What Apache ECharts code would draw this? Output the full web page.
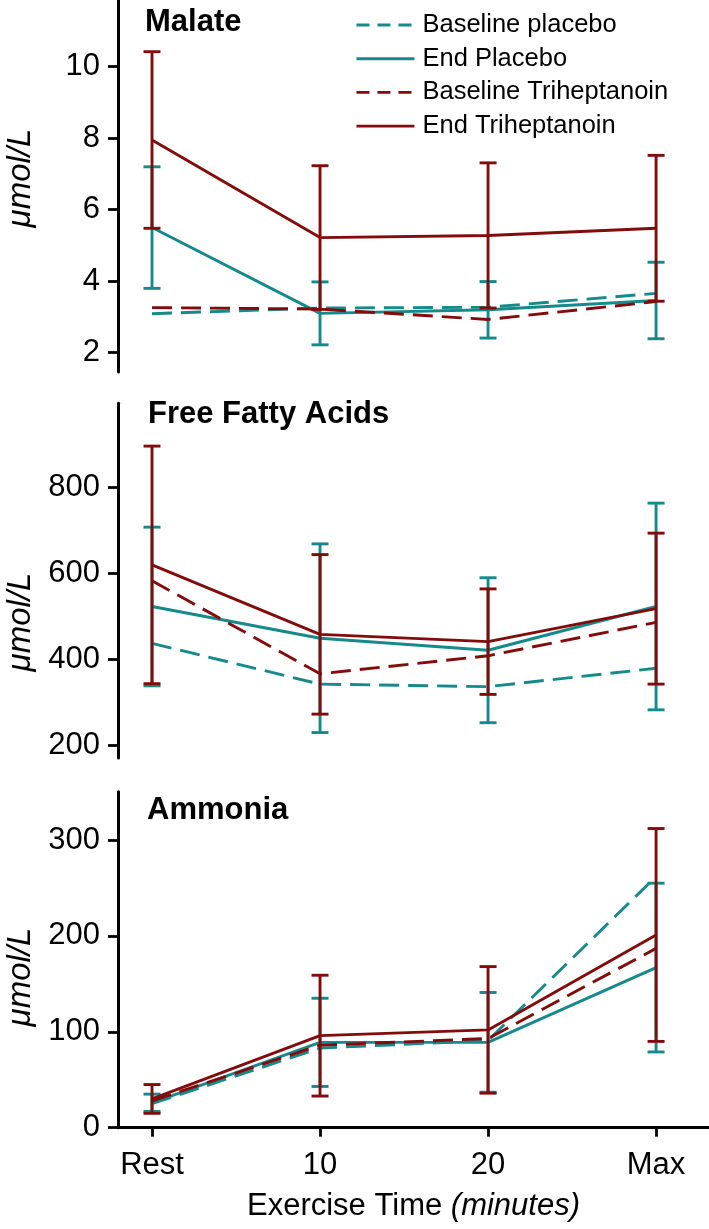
<!DOCTYPE html>
<html>
<head>
<meta charset="utf-8">
<script src="https://cdn.jsdelivr.net/npm/echarts@6/dist/echarts.min.js"></script>
<style>
  html, body { margin: 0; padding: 0; background: #fff; }
  #chart { width: 709px; height: 1229px; }
</style>
</head>
<body>
<div id="chart"></div>
<script>
// ---------- data ----------
const categories = ['Rest', '10', '20', 'Max'];
const seriesNames = ['Baseline placebo', 'End Placebo', 'Baseline Triheptanoin', 'End Triheptanoin'];
const panelTitles = ['Malate', 'Free Fatty Acids', 'Ammonia'];

// Malate (µmol/L)
const malateBasePlacebo = [3.09, 3.25, 3.27, 3.66];
const malateEndPlacebo = [5.5, 3.1, 3.2, 3.46];
const malateEndPlaceboErr = [1.7, 0.88, 0.79, 1.07];
const malateBaseTrihep = [3.26, 3.22, 2.93, 3.43];
const malateEndTrihep = [7.95, 5.22, 5.28, 5.48];
const malateEndTrihepErr = [2.47, 2.01, 2.03, 2.04];
const malateTicks = [2, 4, 6, 8, 10];

// Free Fatty Acids (µmol/L)
const ffaBasePlacebo = [437, 342, 336, 379];
const ffaEndPlacebo = [523, 449, 421, 523];
const ffaEndPlaceboErr = [185, 220, 169, 241];
const ffaBaseTrihep = [583, 366, 408, 486];
const ffaEndTrihep = [620, 458, 441, 518];
const ffaEndTrihepErr = [277, 186, 123, 176];
const ffaTicks = [200, 400, 600, 800];

// Ammonia (µmol/L)
const nh3BasePlacebo = [25, 83, 91, 262];
const nh3EndPlacebo = [26, 89, 89, 167];
const nh3EndPlaceboErr = [9, 46, 52, 88];
const nh3BaseTrihep = [28, 86, 93, 187];
const nh3EndTrihep = [30, 96, 102, 201];
const nh3EndTrihepErr = [15, 63, 66, 111];
const nh3Ticks = [0, 100, 200, 300];

// ---------- styling ----------
const TEAL = '#16898a';
const RED = '#820c0c';
const FONT = '"Liberation Sans", Arial, Helvetica, sans-serif';
const DASH = [20, 9];
const LEGEND_DASH = [13, 8];
const LW = 2.9;

const panels = [
  { base: [malateBasePlacebo, malateEndPlacebo, malateBaseTrihep, malateEndTrihep],
    err: [malateEndPlaceboErr, malateEndTrihepErr], ticks: malateTicks,
    min: 1.46, max: 11.866, top: 0, height: 372 },
  { base: [ffaBasePlacebo, ffaEndPlacebo, ffaBaseTrihep, ffaEndTrihep],
    err: [ffaEndPlaceboErr, ffaEndTrihepErr], ticks: ffaTicks,
    min: 169.7, max: 996.8, top: 403.3, height: 354.7 },
  { base: [nh3BasePlacebo, nh3EndPlacebo, nh3BaseTrihep, nh3EndTrihep],
    err: [nh3EndPlaceboErr, nh3EndTrihepErr], ticks: nh3Ticks,
    min: 0, max: 350.4, top: 791.7, height: 336 }
];

const xIdx = categories.map((c, i) => i);

const grids = [], xAxes = [], yAxes = [], series = [];

function toPairs(arr) { return arr.map((v, i) => [xIdx[i], v]); }
function toErr(mean, err) { return mean.map((v, i) => [xIdx[i], v, err[i]]); }

function errRender(color) {
  return function (params, api) {
    const x = api.value(0), y = api.value(1), e = api.value(2);
    const hi = api.coord([x, y + e]);
    const lo = api.coord([x, y - e]);
    const hw = 8.5;
    const st = { stroke: color, lineWidth: LW };
    return {
      type: 'group',
      children: [
        { type: 'line', shape: { x1: hi[0], y1: hi[1], x2: lo[0], y2: lo[1] }, style: st },
        { type: 'line', shape: { x1: hi[0] - hw, y1: hi[1], x2: hi[0] + hw, y2: hi[1] }, style: st },
        { type: 'line', shape: { x1: lo[0] - hw, y1: lo[1], x2: lo[0] + hw, y2: lo[1] }, style: st }
      ]
    };
  };
}

panels.forEach((p, k) => {
  grids.push({ left: 118, right: 0, top: p.top, height: p.height, containLabel: false });
  const isBottom = k === panels.length - 1;
  xAxes.push({
    gridIndex: k, type: 'value', min: -0.2024, max: 3.315,
    show: isBottom,
    axisLine: { show: isBottom, onZero: false, lineStyle: { color: '#000', width: 3 } },
    axisTick: { show: isBottom, length: 9, customValues: xIdx, lineStyle: { color: '#000', width: 2.8 } },
    axisLabel: { show: isBottom, customValues: xIdx, margin: 22,
      formatter: v => categories[Math.round(v)],
      color: '#000', fontSize: 31, fontFamily: FONT },
    splitLine: { show: false },
    name: isBottom ? '{a|Exercise Time }{b|(minutes)}' : '',
    nameLocation: 'middle', nameGap: 63,
    nameTextStyle: { rich: {
      a: { fontSize: 31, fontFamily: FONT, color: '#000' },
      b: { fontSize: 31, fontFamily: FONT, color: '#000', fontStyle: 'italic' } } }
  });
  yAxes.push({
    gridIndex: k, type: 'value', min: p.min, max: p.max, position: 'left',
    axisLine: { show: true, onZero: false, lineStyle: { color: '#000', width: 3 } },
    axisTick: { show: true, length: 10, customValues: p.ticks, lineStyle: { color: '#000', width: 2.8 } },
    axisLabel: { show: true, customValues: p.ticks, margin: 18, color: '#000', fontSize: 31, fontFamily: FONT },
    splitLine: { show: false }
  });

  const [bp, ep, bt, et] = p.base;
  series.push(
    { name: seriesNames[0], type: 'line', xAxisIndex: k, yAxisIndex: k, data: toPairs(bp),
      symbol: 'none', lineStyle: { color: TEAL, width: LW, type: DASH }, itemStyle: { color: TEAL }, z: 2 },
    { name: seriesNames[1], type: 'line', xAxisIndex: k, yAxisIndex: k, data: toPairs(ep),
      symbol: 'none', lineStyle: { color: TEAL, width: LW }, itemStyle: { color: TEAL }, z: 2 },
    { type: 'custom', xAxisIndex: k, yAxisIndex: k, data: toErr(ep, p.err[0]),
      renderItem: errRender(TEAL), z: 3, silent: true },
    { name: seriesNames[2], type: 'line', xAxisIndex: k, yAxisIndex: k, data: toPairs(bt),
      symbol: 'none', lineStyle: { color: RED, width: LW, type: DASH }, itemStyle: { color: RED }, z: 4 },
    { name: seriesNames[3], type: 'line', xAxisIndex: k, yAxisIndex: k, data: toPairs(et),
      symbol: 'none', lineStyle: { color: RED, width: LW }, itemStyle: { color: RED }, z: 4 },
    { type: 'custom', xAxisIndex: k, yAxisIndex: k, data: toErr(et, p.err[1]),
      renderItem: errRender(RED), z: 5, silent: true }
  );
});

const titlePos = [[145, 22.5], [148, 414], [147, 810]];
const namePos = [[21, 178], [21, 622], [21, 977]];
const graphics = [];
panelTitles.forEach((t, k) => {
  graphics.push({ type: 'text', x: titlePos[k][0], y: titlePos[k][1],
    style: { text: t, fontSize: 31, fontWeight: 'bold', fontFamily: FONT, fill: '#000',
      align: 'left', verticalAlign: 'middle' } });
  graphics.push({ type: 'text', x: namePos[k][0], y: namePos[k][1], rotation: Math.PI / 2,
    style: { text: 'μmol/L', fontSize: 33, fontStyle: 'italic', fontFamily: FONT, fill: '#000',
      align: 'center', verticalAlign: 'middle' } });
});

const legendData = seriesNames.map((n, i) => ({
  name: n,
  lineStyle: { width: LW, type: (i % 2 === 0) ? LEGEND_DASH : 'solid' }
}));

const chart = echarts.init(document.getElementById('chart'), null, { renderer: 'canvas' });
chart.setOption({
  animation: false,
  backgroundColor: '#fff',
  grid: grids,
  xAxis: xAxes,
  yAxis: yAxes,
  legend: {
    data: legendData, orient: 'vertical', left: 350, top: 7,
    itemWidth: 58, itemHeight: 14, itemGap: 7.7,
    itemStyle: { opacity: 0 },
    textStyle: { fontSize: 25.5, fontFamily: FONT, color: '#000', lineHeight: 25, padding: [0, 0, 0, 3] },
    selectedMode: false
  },
  graphic: graphics,
  series: series
});
</script>
</body>
</html>
